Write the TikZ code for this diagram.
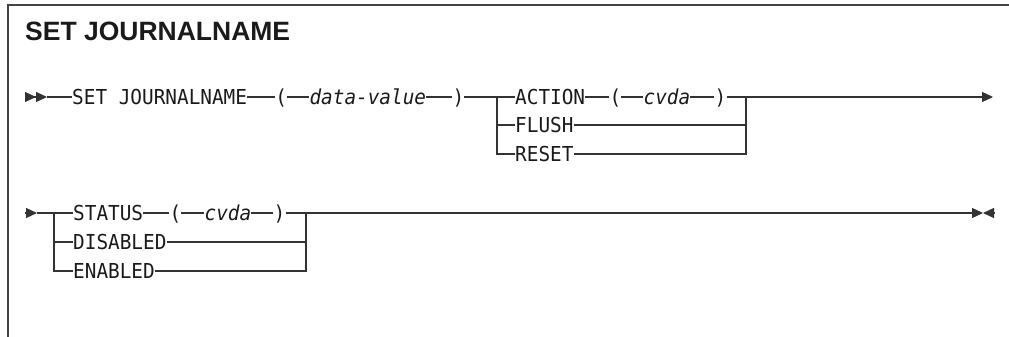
\documentclass[tikz,border=0pt]{standalone}
\usepackage{fontspec}
\setmainfont{Liberation Sans}
\setmonofont[FakeStretch=0.94]{DejaVu Sans Mono}
\usetikzlibrary{positioning,arrows.meta}

\definecolor{railgray}{HTML}{333333}
\definecolor{framegray}{HTML}{444444}
\definecolor{inkgray}{HTML}{1A1A1A}

\tikzset{
  kw/.style={font=\ttfamily\fontsize{20.6}{22}\selectfont, text=inkgray,
    inner sep=0pt, text height=15pt, text depth=0pt, anchor=west},
  var/.style={kw, font=\ttfamily\itshape\fontsize{20.6}{22}\selectfont},
  rail/.style={line width=1.2pt, draw=railgray},
  railtip/.style={-{Triangle[length=11pt,width=10pt]}}
}

\begin{document}
\begin{tikzpicture}[x=1pt, y=-1pt]
  \useasboundingbox (0,0) rectangle (1009,337);

  % Frame and title
  \draw[line width=1.5pt, framegray] (1009,5) -- (8,5) -- (8,337);
  \node[anchor=base west, inner sep=0pt, text=inkgray,
        font=\bfseries\fontsize{26.5}{28}\selectfont] (title) at (25,41) {SET JOURNALNAME};

  % First line
  \coordinate (in1) at (25,97);
  \coordinate (in1e) at (47,97);
  \node[kw, right=25pt of in1e] (setjn) {SET JOURNALNAME};
  \node[kw, right=28pt of setjn] (lp1) {(};
  \node[var, right=22pt of lp1] (dv) {data-value};
  \node[kw, right=26pt of dv] (rp1) {)};
  \coordinate (b1) at (497,97);
  \node[kw] (action) at (515,97) {ACTION};
  \node[kw, right=24pt of action] (lp2) {(};
  \node[var, right=22pt of lp2] (cvda1) {cvda};
  \node[kw, right=24pt of cvda1] (rp2) {)};
  \node[kw] (flush) at (515,125) {FLUSH};
  \node[kw] (reset) at (515,154) {RESET};
  \coordinate (b1r) at (746,97);
  \coordinate (out1) at (993,97);

  \draw[rail, -{Triangle[length=11pt,width=10pt] Triangle[length=11pt,width=10pt]}] (in1) -- (in1e);
  \foreach \a/\b in {in1e/setjn, setjn/lp1, lp1/dv, dv/rp1, rp1/action,
                     action/lp2, lp2/cvda1, cvda1/rp2}
    \draw[rail] (\a) -- (\b);
  \draw[rail] (b1) -- (b1 |- reset) -- (reset);
  \draw[rail] (b1 |- flush) -- (flush);
  \draw[rail] (flush) -- (b1r |- flush);
  \draw[rail] (reset) -- (b1r |- reset) -- (b1r);
  \draw[rail, railtip] (rp2) -- (out1);

  % Second line
  \coordinate (in2) at (25,213);
  \coordinate (in2e) at (37,213);
  \coordinate (b2) at (54,213);
  \node[kw] (status) at (73,213) {STATUS};
  \node[kw, right=26pt of status] (lp3) {(};
  \node[var, right=23pt of lp3] (cvda2) {cvda};
  \node[kw, right=22pt of cvda2] (rp3) {)};
  \node[kw] (disabled) at (73,242) {DISABLED};
  \node[kw] (enabled) at (73,271) {ENABLED};
  \coordinate (b2r) at (306,213);
  \coordinate (out2) at (983,213);
  \coordinate (end2) at (995,213);

  \draw[rail, railtip] (in2) -- (in2e);
  \foreach \a/\b in {in2e/status, status/lp3, lp3/cvda2, cvda2/rp3}
    \draw[rail] (\a) -- (\b);
  \draw[rail] (b2) -- (b2 |- enabled) -- (enabled);
  \draw[rail] (b2 |- disabled) -- (disabled);
  \draw[rail] (disabled) -- (b2r |- disabled);
  \draw[rail] (enabled) -- (b2r |- enabled) -- (b2r);
  \draw[rail, railtip] (rp3) -- (out2);
  \draw[rail, railtip] (end2) -- (out2);
\end{tikzpicture}
\end{document}
